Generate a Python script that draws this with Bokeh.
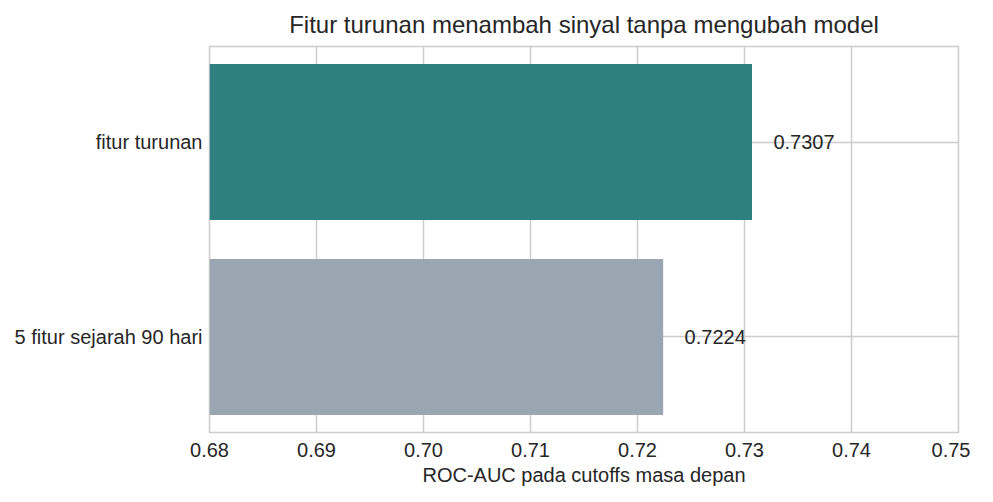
from bokeh.plotting import figure
from bokeh.models import Range1d, FixedTicker, PrintfTickFormatter, ColumnDataSource
from bokeh.core.properties import value
from bokeh.embed import file_html
from bokeh.resources import INLINE

categories = ["5 fitur sejarah 90 hari", "fitur turunan"]
auc_values = [0.7224, 0.7307]
bar_colors = ["#9aa6b2", "#2e7f7e"]
x_ticks = [0.68, 0.69, 0.70, 0.71, 0.72, 0.73, 0.74, 0.75]
title_text = "Fitur turunan menambah sinyal tanpa mengubah model"
x_label = "ROC-AUC pada cutoffs masa depan"

FONT = "Liberation Sans"
TXT = "#262626"
GRID = "#cccccc"

ypos = list(range(len(categories)))
src = ColumnDataSource(dict(
    y=ypos,
    v=auc_values,
    c=bar_colors,
    lab=[f"{v:.4f}" for v in auc_values],
    tx=[v + 0.002 for v in auc_values],
))

p = figure(width=970, height=490, output_backend="svg", toolbar_location=None,
           x_range=Range1d(x_ticks[0], x_ticks[-1]), y_range=Range1d(-0.49, 1.49),
           min_border_left=209, min_border_right=12, min_border_top=44, min_border_bottom=58)

p.hbar(y="y", left=0, right="v", height=0.8, fill_color="c", line_color=None, source=src)
p.text(x="tx", y="y", text="lab", source=src, text_align="left", text_baseline="middle",
       text_font=value(FONT), text_font_size="20px", text_color=TXT)

p.title.text = title_text
p.title.align = "center"
p.title.text_font = FONT
p.title.text_font_size = "24px"
p.title.text_font_style = "normal"
p.title.text_color = TXT
p.title.standoff = 17

p.xaxis.ticker = FixedTicker(ticks=x_ticks)
p.xaxis.formatter = PrintfTickFormatter(format="%.2f")
p.xaxis.axis_label = x_label
p.yaxis.ticker = FixedTicker(ticks=ypos)
p.yaxis.major_label_overrides = {i: c for i, c in enumerate(categories)}

for ax in (p.xaxis, p.yaxis):
    ax.axis_line_color = None
    ax.major_tick_line_color = None
    ax.minor_tick_line_color = None
    ax.major_tick_out = 0
    ax.major_tick_in = 0
    ax.minor_tick_out = 0
    ax.minor_tick_in = 0
    ax.major_label_text_font = FONT
    ax.major_label_text_font_size = "20px"
    ax.major_label_text_color = TXT
    ax.axis_label_text_font = FONT
    ax.axis_label_text_font_size = "20px"
    ax.axis_label_text_font_style = "normal"
    ax.axis_label_text_color = TXT
p.xaxis.major_label_standoff = 10
p.yaxis.major_label_standoff = 7
p.xaxis.axis_label_standoff = 4

p.xgrid.ticker = FixedTicker(ticks=x_ticks)
p.ygrid.ticker = FixedTicker(ticks=ypos)
p.grid.grid_line_color = GRID
p.grid.grid_line_width = 1.5
p.outline_line_color = GRID
p.outline_line_width = 1.5
p.background_fill_color = "white"
p.border_fill_color = "white"

open("out.html", "w").write(file_html(p, INLINE))
